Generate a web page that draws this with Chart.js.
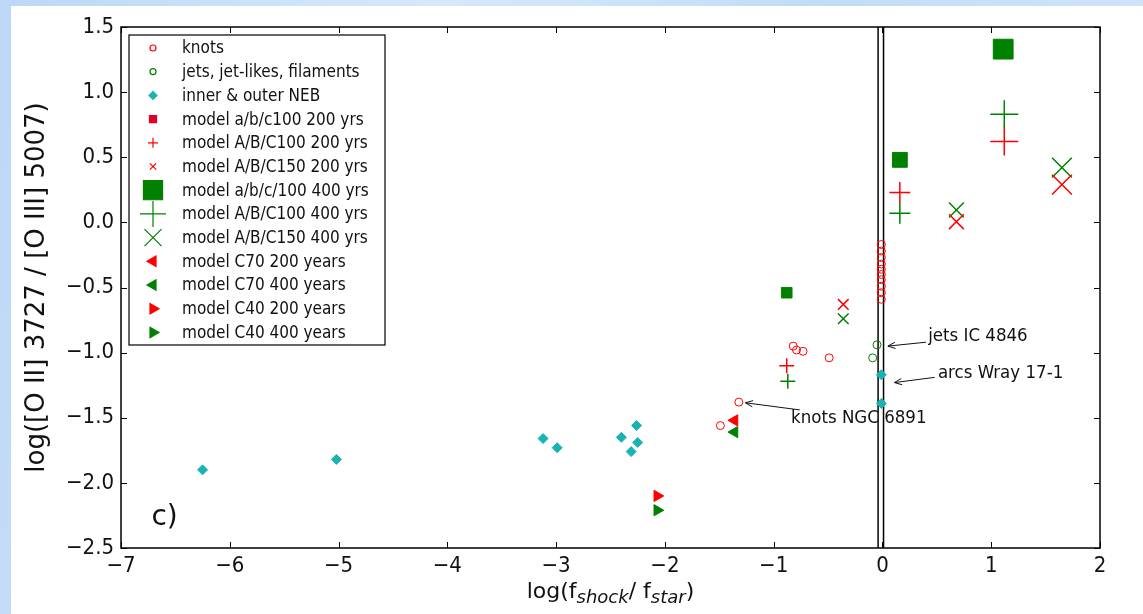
<!DOCTYPE html>
<html>
<head>
<meta charset="utf-8">
<title>log([O II]/[O III]) vs log(f_shock/f_star)</title>
<script src="https://cdn.jsdelivr.net/npm/chart.js@4.4.0/dist/chart.umd.min.js"></script>
<style>
  html, body { margin: 0; padding: 0; width: 1143px; height: 614px; overflow: hidden; }
  #bg { position: absolute; left: 0; top: 0; width: 1143px; height: 614px;
        background: linear-gradient(100deg, #bcd8f6 0%, #d6e9fb 35%, #c2dcf7 65%, #d3e6fa 100%); }
  #panel { position: absolute; left: 11px; top: 6px; right: 0; bottom: 0; background: #fff; }
  #plot { position: absolute; left: 0; top: 0; }
</style>
</head>
<body>
<div id="bg"></div>
<div id="panel"></div>
<canvas id="plot" width="1143" height="614"></canvas>
<script>
/* ── data (log f_shock/f_star , log [O II]/[O III]) ── */
var xTickValues = [-7, -6, -5, -4, -3, -2, -1, 0, 1, 2];
var xTickLabels = ['\u22127', '\u22126', '\u22125', '\u22124', '\u22123', '\u22122', '\u22121', '0', '1', '2'];
var yTickValues = [1.5, 1.0, 0.5, 0.0, -0.5, -1.0, -1.5, -2.0, -2.5];
var yTickLabels = ['1.5', '1.0', '0.5', '0.0', '\u22120.5', '\u22121.0', '\u22121.5', '\u22122.0', '\u22122.5'];

// observations
var knotsX = [-1.32, -1.49, -0.82, -0.79, -0.73, -0.49, -0.01, -0.01, -0.01, -0.01, -0.01, -0.01, -0.01, -0.01, -0.01, -0.01];
var knotsY = [-1.38, -1.56, -0.95, -0.98, -0.99, -1.04, -0.17, -0.22, -0.27, -0.32, -0.36, -0.40, -0.44, -0.49, -0.54, -0.59];
var jetsX = [-0.05, -0.09];
var jetsY = [-0.94, -1.04];
var nebX = [-6.25, -5.02, -3.12, -2.99, -2.40, -2.26, -2.25, -2.31, -0.01, -0.01];
var nebY = [-1.90, -1.82, -1.66, -1.73, -1.65, -1.56, -1.69, -1.76, -1.17, -1.39];

// models
var sq200X = [], sq200Y = [];
var plus200X = [-0.88, 0.16, 1.12];
var plus200Y = [-1.10, 0.23, 0.62];
var x150_200X = [-0.36, 0.68, 1.65];
var x150_200Y = [-0.63, 0.005, 0.29];
var sq400X = [-0.88, 0.16, 1.11];
var sq400Y = [-0.54, 0.48, 1.33];
var plus400X = [-0.87, 0.16, 1.12];
var plus400Y = [-1.22, 0.07, 0.83];
var x150_400X = [-0.36, 0.68, 1.65];
var x150_400Y = [-0.74, 0.095, 0.42];
var c70_200X = [-1.36], c70_200Y = [-1.52];
var c70_400X = [-1.36], c70_400Y = [-1.61];
var c40_200X = [-2.07], c40_200Y = [-2.10];
var c40_400X = [-2.07], c40_400Y = [-2.21];

// the two vertical reference lines around log ratio = 0
var vlineX = [-0.04, 0.01];
var yRange = [-2.5, 1.5];

var legendLabels = ['knots', 'jets, jet-likes, filaments', 'inner & outer NEB',
  'model a/b/c100 200 yrs', 'model A/B/C100 200 yrs', 'model A/B/C150 200 yrs',
  'model a/b/c/100 400 yrs', 'model A/B/C100 400 yrs', 'model A/B/C150 400 yrs',
  'model C70 200 years', 'model C70 400 years', 'model C40 200 years', 'model C40 400 years'];

// annotations: label, label anchor (x,y), arrow tail, arrow tip
var noteText = ['knots NGC 6891', 'jets IC 4846', 'arcs Wray 17-1'];
var noteAt = [[-0.84, -1.50], [0.42, -0.87], [0.51, -1.16]];
var noteTail = [[-0.76, -1.44], [0.40, -0.92], [0.48, -1.19]];
var noteTip = [[-1.26, -1.385], [0.05, -0.95], [0.11, -1.23]];
var panelLabel = 'c)';

/* ── styles ── */
var RED = '#ff0000', GREEN = '#008000', CYAN = '#1ab3b3';
var FONT = "'DejaVu Sans Condensed', 'DejaVu Sans', sans-serif";
var FONT_N = "'DejaVu Sans', sans-serif";
var SIZE3 = [7.5, 10.5, 14];       // model marker grows with x
var TICK = 6;

function pts(xs, ys) { return xs.map(function (v, i) { return { x: v, y: ys[i] }; }); }
function fmtTick(vals, labels) {
  return function (v) { var i = vals.findIndex(function (t) { return Math.abs(t - v) < 1e-6; }); return i < 0 ? '' : labels[i]; };
}

var legendStyle = [
  { s: 'circle', r: 3, c: RED, f: 'rgba(0,0,0,0)', w: 1 },
  { s: 'circle', r: 3, c: GREEN, f: 'rgba(0,0,0,0)', w: 1 },
  { s: 'rectRot', r: 4, c: CYAN, f: CYAN, w: 1 },
  { s: 'rect', r: 5, c: '#e0002a', f: '#e0002a', w: 1 },
  { s: 'cross', r: 5, c: RED, w: 1.2 },
  { s: 'crossRot', r: 4.5, c: RED, w: 1.2 },
  { s: 'rect', r: 13.5, c: GREEN, f: GREEN, w: 1 },
  { s: 'cross', r: 13, c: GREEN, w: 1.5 },
  { s: 'crossRot', r: 12, c: GREEN, w: 1.5 },
  { s: 'triangle', r: 6, c: RED, f: RED, w: 1, rot: -90 },
  { s: 'triangle', r: 6, c: GREEN, f: GREEN, w: 1, rot: -90 },
  { s: 'triangle', r: 6, c: RED, f: RED, w: 1, rot: 90 },
  { s: 'triangle', r: 6, c: GREEN, f: GREEN, w: 1, rot: 90 }
];

function mark(xs, ys, style, color, fill, radius, bw, rot, order) {
  return {
    data: pts(xs, ys), pointStyle: style, pointRadius: radius, pointHoverRadius: radius,
    borderColor: color, backgroundColor: fill, pointBorderWidth: bw, pointRotation: rot || 0,
    showLine: false, order: order || 0
  };
}

var datasets = [
  mark(knotsX, knotsY, 'circle', RED, 'rgba(0,0,0,0)', 4, 1, 0, 5),
  mark(jetsX, jetsY, 'circle', GREEN, 'rgba(0,0,0,0)', 4, 1, 0, 5),
  mark(nebX, nebY, 'rectRot', CYAN, CYAN, 5, 1, 0, 5),
  mark(sq200X, sq200Y, 'rect', RED, RED, 5, 1, 0, 6),
  mark(plus200X, plus200Y, 'cross', RED, RED, SIZE3, 1.5, 0, 3),
  mark(x150_200X, x150_200Y, 'crossRot', RED, RED, SIZE3, 1.5, 0, 2),
  mark(sq400X, sq400Y, 'rect', GREEN, GREEN, SIZE3, 1, 0, 4),
  mark(plus400X, plus400Y, 'cross', GREEN, GREEN, SIZE3, 1.5, 0, 3),
  mark(x150_400X, x150_400Y, 'crossRot', GREEN, GREEN, SIZE3, 1.5, 0, 3),
  mark(c70_200X, c70_200Y, 'triangle', RED, RED, 6.5, 1, -90, 1),
  mark(c70_400X, c70_400Y, 'triangle', GREEN, GREEN, 6.5, 1, -90, 1),
  mark(c40_200X, c40_200Y, 'triangle', RED, RED, 6.5, 1, 90, 1),
  mark(c40_400X, c40_400Y, 'triangle', GREEN, GREEN, 6.5, 1, 90, 1)
];
vlineX.forEach(function (v) {
  datasets.push({ data: pts([v, v], yRange), showLine: true, pointRadius: 0, borderColor: '#000', borderWidth: 1.5, order: 20 });
});

/* ── frame, inward ticks, legend box, notes, x title ── */
var decor = {
  id: 'decor',
  afterDatasetsDraw: function (chart) {
    var ctx = chart.ctx, a = chart.chartArea, sx = chart.scales.x, sy = chart.scales.y;
    ctx.save();
    ctx.strokeStyle = '#000';
    ctx.lineWidth = 1;
    ctx.beginPath();
    xTickValues.forEach(function (v) {
      var p = Math.round(sx.getPixelForValue(v)) + 0.5;
      ctx.moveTo(p, a.bottom); ctx.lineTo(p, a.bottom - TICK);
      ctx.moveTo(p, a.top); ctx.lineTo(p, a.top + TICK);
    });
    yTickValues.forEach(function (v) {
      var p = Math.round(sy.getPixelForValue(v)) + 0.5;
      ctx.moveTo(a.left, p); ctx.lineTo(a.left + TICK, p);
      ctx.moveTo(a.right, p); ctx.lineTo(a.right - TICK, p);
    });
    ctx.stroke();
    ctx.lineWidth = 1.5;
    ctx.strokeRect(a.left, a.top, a.right - a.left, a.bottom - a.top);

    // legend
    var lx = a.left + 8, ly = a.top + 8, lw = 256, lh = 310;
    ctx.fillStyle = '#fff';
    ctx.fillRect(lx, ly, lw, lh);
    ctx.lineWidth = 1.2;
    ctx.strokeRect(lx, ly, lw, lh);
    ctx.font = "17px " + FONT;
    ctx.textBaseline = 'middle';
    ctx.textAlign = 'left';
    legendLabels.forEach(function (t, i) {
      var st = legendStyle[i], yy = ly + 13 + i * 23.7;
      ctx.strokeStyle = st.c; ctx.fillStyle = st.f || st.c;
      Chart.helpers.drawPoint(ctx, { pointStyle: st.s, radius: st.r, rotation: st.rot || 0, borderWidth: st.w }, lx + 24, yy);
      ctx.fillStyle = '#111';
      ctx.fillText(t, lx + 53, yy + 1);
    });

    // annotations with arrows
    ctx.strokeStyle = '#111'; ctx.fillStyle = '#111'; ctx.lineWidth = 1;
    ctx.font = "18.5px " + FONT;
    noteText.forEach(function (t, i) {
      var x0 = sx.getPixelForValue(noteTail[i][0]), y0 = sy.getPixelForValue(noteTail[i][1]);
      var x1 = sx.getPixelForValue(noteTip[i][0]), y1 = sy.getPixelForValue(noteTip[i][1]);
      var ang = Math.atan2(y1 - y0, x1 - x0), hl = 8, hw = 0.4;
      ctx.beginPath();
      ctx.moveTo(x0, y0); ctx.lineTo(x1, y1);
      ctx.moveTo(x1 - hl * Math.cos(ang - hw), y1 - hl * Math.sin(ang - hw));
      ctx.lineTo(x1, y1);
      ctx.lineTo(x1 - hl * Math.cos(ang + hw), y1 - hl * Math.sin(ang + hw));
      ctx.stroke();
      ctx.fillText(t, sx.getPixelForValue(noteAt[i][0]), sy.getPixelForValue(noteAt[i][1]));
    });

    // panel label
    ctx.font = "28px " + FONT_N;
    ctx.textBaseline = 'alphabetic';
    ctx.fillText(panelLabel, sx.getPixelForValue(-6.72), sy.getPixelForValue(-2.32));

    // x title with subscripts
    var parts = [['log(f', 22, ''], ['shock', 18, 'italic '], ['/ f', 22, ''], ['star', 18, 'italic '], [')', 22, '']];
    var total = 0;
    parts.forEach(function (p) { ctx.font = p[2] + p[1] + 'px ' + FONT_N; p.push(ctx.measureText(p[0]).width); total += p[3]; });
    var cx = (a.left + a.right) / 2 - total / 2, base = 598;
    parts.forEach(function (p) {
      ctx.font = p[2] + p[1] + 'px ' + FONT_N;
      ctx.fillText(p[0], cx, p[1] < 20 ? base + 5 : base);
      cx += p[3];
    });
    ctx.restore();
  }
};

new Chart(document.getElementById('plot'), {
  type: 'scatter',
  data: { datasets: datasets },
  options: {
    responsive: false, animation: false, events: [],
    layout: { padding: { top: 27, right: 43, left: 0, bottom: 0 } },
    plugins: { legend: { display: false }, tooltip: { enabled: false } },
    scales: {
      x: {
        type: 'linear', min: -7, max: 2,
        afterFit: function (s) { s.height = 614 - 548; },
        grid: { display: false, drawTicks: false }, border: { display: false },
        ticks: { stepSize: 1, padding: 5, color: '#111', font: { family: FONT, size: 22 }, maxRotation: 0,
                 callback: fmtTick(xTickValues, xTickLabels) }
      },
      y: {
        type: 'linear', min: -2.5, max: 1.5,
        afterFit: function (s) { s.width = 121; },
        grid: { display: false, drawTicks: false }, border: { display: false },
        ticks: { stepSize: 0.5, padding: 7, color: '#111', font: { family: FONT, size: 22 },
                 callback: fmtTick(yTickValues, yTickLabels) },
        title: { display: true, text: 'log([O II] 3727 / [O III] 5007)', color: '#111',
                 font: { family: FONT_N, size: 26 }, padding: { top: 22, bottom: 0 } }
      }
    }
  },
  plugins: [decor]
});
</script>
</body>
</html>
